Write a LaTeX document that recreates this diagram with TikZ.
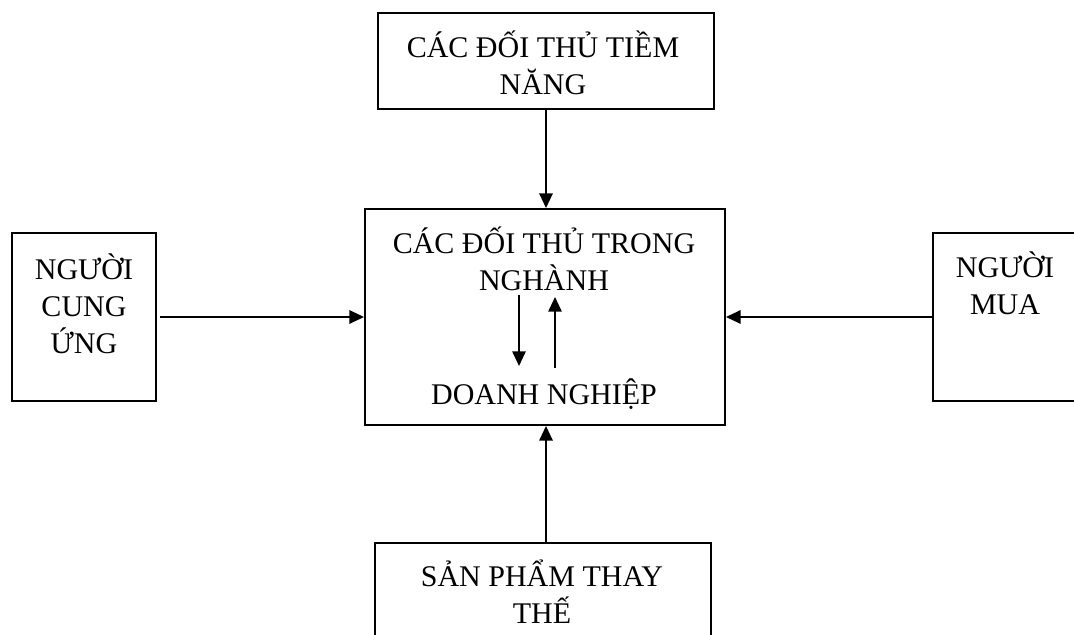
\documentclass[tikz,border=0pt]{standalone}
\usepackage{fontspec}
\setmainfont{Liberation Serif}
\usetikzlibrary{arrows.meta}

\tikzset{
    hop/.style={draw, line width=1.4pt, inner sep=0pt},
    chu/.style={align=center, inner sep=0pt, anchor=base, font=\fontsize{22.5}{27.75}\selectfont},
    muiten/.style={-{Triangle[length=11pt, width=10pt]}, line width=1.4pt},
}

\begin{document}
\begin{tikzpicture}[x=0.75pt, y=-0.75pt]
    \useasboundingbox (0,0) rectangle (1074,635);

    % 1. Các hộp (khung chữ nhật)
    \node[hop, minimum width=252pt, minimum height=72pt] (tiemnang) at (546,61) {};
    \node[hop, minimum width=270pt, minimum height=162pt] (nganh) at (545,317) {};
    \node[hop, minimum width=108pt, minimum height=126pt] (cungung) at (84,317) {};
    \node[hop, minimum width=108pt, minimum height=126pt] (mua) at (1005,317) {};
    \node[hop, minimum width=252pt, minimum height=72pt] (thaythe) at (543,591) {};

    % 2. Chữ trong các hộp (neo ở dòng cuối)
    \node[chu] (chutiemnang) at (543,94) {CÁC ĐỐI THỦ TIỀM\\NĂNG};
    \node[chu] (chunganh) at (544,290) {CÁC ĐỐI THỦ TRONG\\NGHÀNH};
    \node[chu] (chudn) at (544,404) {DOANH NGHIỆP};
    \node[chu] (chucungung) at (84,353) {NGƯỜI\\CUNG\\ỨNG};
    \node[chu] (chumua) at (1005,314) {NGƯỜI\\MUA};
    \node[chu] (chuthaythe) at (542,623) {SẢN PHẨM THAY\\THẾ};

    % 3. Mũi tên vào hộp giữa
    \draw[muiten] (tiemnang.south) -- (tiemnang.south |- nganh.north);
    \draw[muiten, shorten <=2.25pt] (cungung) -- (nganh);
    \draw[muiten] (mua) -- (nganh);
    \draw[muiten] ([xshift=2.25pt]thaythe.north) -- ([xshift=2.25pt]thaythe.north |- nganh.south);

    % 4. Hai mũi tên giữa ngành và doanh nghiệp
    \coordinate (xuong1) at (519,295);
    \coordinate (xuong2) at (519,366);
    \coordinate (len1) at (555,368);
    \coordinate (len2) at (555,297);
    \draw[muiten] (xuong1) -- (xuong2);
    \draw[muiten] (len1) -- (len2);

\end{tikzpicture}
\end{document}
